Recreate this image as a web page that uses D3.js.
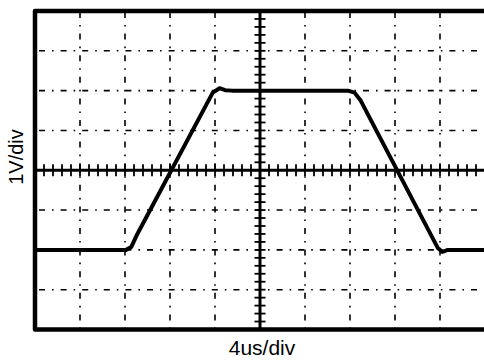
<!DOCTYPE html>
<html><head><meta charset="utf-8">
<script src="https://cdn.jsdelivr.net/npm/d3@7/dist/d3.min.js"></script>
<style>body{margin:0;background:#fff}svg{display:block}</style>
</head><body>
<svg id="c" width="484" height="360"></svg>
<script>
// time (µs) and voltage (V) of the trace
const timeUs = [0, 8.1, 8.55, 9.1, 15.8, 16.4, 16.9, 17.5, 27.8, 28.4, 28.95, 35.8, 36.2, 36.7, 40];
const volts  = [-2, -2, -1.93, -1.6, 1.95, 2.06, 2.01, 2.0, 2.0, 1.95, 1.75, -1.95, -2.05, -2.0, -2.0];
const xMajor = [4, 8, 12, 16, 24, 28, 32, 36];
const yMajor = [-3, -2, -1, 1, 2, 3];
const xLabel = "4us/div";
const yLabel = "1V/div";

const svg = d3.select("#c");
const x = d3.scaleLinear().domain([0, 40]).range([35, 485]);
const y = d3.scaleLinear().domain([-4, 4]).range([329.5, 11]);

// dash-dot grid
const g = svg.append("g").attr("stroke", "#000").attr("stroke-width", 1.6)
  .attr("stroke-dasharray", "6,7,1.6,7").attr("fill", "none");
g.selectAll("line.v").data(xMajor).join("line").attr("class", "v")
  .attr("x1", d => x(d)).attr("x2", d => x(d)).attr("y1", y(4)).attr("y2", y(-4))
  .attr("stroke-dashoffset", -1);
g.selectAll("line.h").data(yMajor).join("line").attr("class", "h")
  .attr("x1", x(0)).attr("x2", x(40)).attr("y1", d => y(d)).attr("y2", d => y(d))
  .attr("stroke-dashoffset", -4);

// center axes with minor ticks
const ax = svg.append("g").attr("stroke", "#000");
ax.append("line").attr("x1", x(0)).attr("x2", x(40)).attr("y1", y(0)).attr("y2", y(0)).attr("stroke-width", 3);
ax.append("line").attr("x1", x(20)).attr("x2", x(20)).attr("y1", y(4)).attr("y2", y(-4)).attr("stroke-width", 3);
const xt = d3.range(0, 50).map(i => i * 0.8);
const yt = d3.range(0, 40).map(i => -4 + i * 0.2);
ax.selectAll("line.xt").data(xt).join("line").attr("class", "xt")
  .attr("x1", d => x(d)).attr("x2", d => x(d)).attr("y1", y(0) - 6).attr("y2", y(0) + 6).attr("stroke-width", 1.8);
ax.selectAll("line.yt").data(yt).join("line").attr("class", "yt")
  .attr("x1", x(20) - 5.5).attr("x2", x(20) + 5.5).attr("y1", d => y(d)).attr("y2", d => y(d)).attr("stroke-width", 1.8);

// frame
svg.append("path")
  .attr("d", `M${x(40)},${y(4)} L${x(0)},${y(4)} L${x(0)},${y(-4)} L${x(40)},${y(-4)}`)
  .attr("fill", "none").attr("stroke", "#000").attr("stroke-width", 4.5).attr("stroke-linejoin", "round");

// trace
const pts = timeUs.map((t, i) => [t, volts[i]]);
svg.append("path").datum(pts)
  .attr("d", d3.line().x(d => x(d[0])).y(d => y(d[1])).curve(d3.curveLinear))
  .attr("fill", "none").attr("stroke", "#000").attr("stroke-width", 4)
  .attr("stroke-linejoin", "round").attr("stroke-linecap", "round");

// labels
svg.append("text").attr("x", 262).attr("y", 355).attr("text-anchor", "middle")
  .attr("font-family", "Liberation Sans, Arial, sans-serif").attr("font-size", 21).text(xLabel);
svg.append("text").attr("transform", "translate(22.5,157) rotate(-90)").attr("text-anchor", "middle")
  .attr("font-family", "Liberation Sans, Arial, sans-serif").attr("font-size", 20).text(yLabel);
</script>
</body></html>
